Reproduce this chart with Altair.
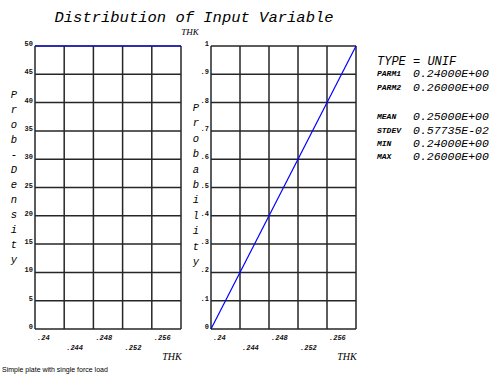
import altair as alt
import pandas as pd

# ---- data -------------------------------------------------------------
thk_ticks = [0.24, 0.244, 0.248, 0.252, 0.256, 0.26]
thk_labels = [".24", ".244", ".248", ".252", ".256", ""]
thk_span = [0.24, 0.26]

density_ticks = [0, 5, 10, 15, 20, 25, 30, 35, 40, 45, 50]
density_labels = ["0", "5", "10", "15", "20", "25", "30", "35", "40", "45", "50"]

prob_ticks = [0, 0.1, 0.2, 0.3, 0.4, 0.5, 0.6, 0.7, 0.8, 0.9, 1.0]
prob_labels = ["0", ".1", ".2", ".3", ".4", ".5", ".6", ".7", ".8", ".9", "1"]

pdf_values = [50, 50]   # uniform density over THK span
cdf_values = [0, 1]     # cumulative probability over THK span

type_line = "TYPE = UNIF"
parm_names = ["PARM1", "PARM2"]
parm_values = ["0.24000E+00", "0.26000E+00"]
stat_names = ["MEAN", "STDEV", "MIN", "MAX"]
stat_values = ["0.25000E+00", "0.57735E-02", "0.24000E+00", "0.26000E+00"]

# ---- layout -----------------------------------------------------------
W, H = 493, 376
PLOT_TOP, PLOT_BOTTOM = 46, 329
LEFT_X = [35, 181]
RIGHT_X = [211, 356]

MONO = "Liberation Mono"
GRID_COLOR = "#262626"
LINE_BLUE = "#0000ff"


def panel(x_px, y_ticks, y_labels, y_max, curve):
    xs = alt.Scale(domain=thk_span, range=x_px, nice=False, zero=False)
    ys = alt.Scale(domain=[0, y_max], range=[PLOT_BOTTOM, PLOT_TOP], nice=False, zero=False)

    vgrid = pd.DataFrame({"thk": thk_ticks, "y0": 0, "y1": y_max})
    hgrid = pd.DataFrame({"val": y_ticks, "x0": thk_span[0], "x1": thk_span[1]})
    curve_df = pd.DataFrame({"thk": thk_span, "val": curve})
    xlab = pd.DataFrame({"thk": thk_ticks, "lab": thk_labels, "base": 0})
    ylab = pd.DataFrame({"val": y_ticks, "lab": y_labels, "x0": thk_span[0]})

    v = alt.Chart(vgrid).mark_rule(color=GRID_COLOR, strokeWidth=1.5).encode(
        x=alt.X("thk:Q", scale=xs, axis=None),
        y=alt.Y("y0:Q", scale=ys, axis=None),
        y2="y1:Q",
    )
    h = alt.Chart(hgrid).mark_rule(color=GRID_COLOR, strokeWidth=1.5).encode(
        y=alt.Y("val:Q", scale=ys, axis=None),
        x=alt.X("x0:Q", scale=xs, axis=None),
        x2="x1:Q",
    )
    line = alt.Chart(curve_df).mark_line(color=LINE_BLUE, strokeWidth=1.2).encode(
        x=alt.X("thk:Q", scale=xs, axis=None),
        y=alt.Y("val:Q", scale=ys, axis=None),
    )
    tick_style = dict(align="left", baseline="middle", dx=2, font=MONO,
                      fontSize=7, fontStyle="italic", fontWeight="bold", color="#111")
    xl_even = alt.Chart(xlab.iloc[0::2]).mark_text(dy=9, **tick_style).encode(
        x=alt.X("thk:Q", scale=xs, axis=None),
        y=alt.Y("base:Q", scale=ys, axis=None),
        text="lab:N",
    )
    xl_odd = alt.Chart(xlab.iloc[1::2]).mark_text(dy=19, **tick_style).encode(
        x=alt.X("thk:Q", scale=xs, axis=None),
        y=alt.Y("base:Q", scale=ys, axis=None),
        text="lab:N",
    )
    yl = alt.Chart(ylab).mark_text(
        align="right", baseline="middle", dx=-2, dy=-2,
        font=MONO, fontSize=7, fontWeight="bold", color="#111",
    ).encode(
        x=alt.X("x0:Q", scale=xs, axis=None),
        y=alt.Y("val:Q", scale=ys, axis=None),
        text="lab:N",
    )
    return alt.layer(h, v, line, xl_even, xl_odd, yl)


one = pd.DataFrame({"k": [0]})


def label(text, x, y, size, align="left", weight="normal", style="italic",
          font=MONO, line_height=None, color="#000"):
    kw = dict(text=text, align=align, baseline="middle", font=font,
              fontSize=size, fontStyle=style, fontWeight=weight, color=color)
    if line_height is not None:
        kw["lineHeight"] = line_height
    return alt.Chart(one).mark_text(**kw).encode(x=alt.value(x), y=alt.value(y))


left = panel(LEFT_X, density_ticks, density_labels, 50, pdf_values)
right = panel(RIGHT_X, prob_ticks, prob_labels, 1, cdf_values)

texts = [
    label("Distribution of Input Variable", 194, 17, 15.5, align="center"),
    label("THK", 190, 32, 9, align="center", font="Liberation Serif"),
    label("THK", 172, 357, 10, align="center", font="Liberation Serif"),
    label("THK", 347, 357, 10, align="center", font="Liberation Serif"),
    # vertical axis titles, one letter per line (first line centred at y)
    label(list("Prob-") + [""] + list("Density"), 14, 95, 10.5, align="center",
          line_height=15),
    label(list("Probability"), 196, 108, 10.5, align="center", line_height=15.4),
    label("Simple plate with single force load", 2, 370, 7, style="normal",
          font="Liberation Sans"),
    label(type_line, 377, 61, 12),
]
side_rows = [(parm_names[0], parm_values[0], 74), (parm_names[1], parm_values[1], 88)]
side_rows += list(zip(stat_names, stat_values, [117, 131, 144, 157]))
for name, val, y in side_rows:
    texts.append(label(name, 377, y, 8, weight="bold"))
    texts.append(label(val, 413, y, 11.5))

chart = alt.layer(left, right, *texts).resolve_scale(
    x="independent", y="independent"
).properties(
    width=W, height=H, padding=0,
    autosize=alt.AutoSizeParams(type="none"),
    background="white",
).configure_view(strokeOpacity=0)

chart.save("out.html", embed_options={"renderer": "svg", "actions": False})
